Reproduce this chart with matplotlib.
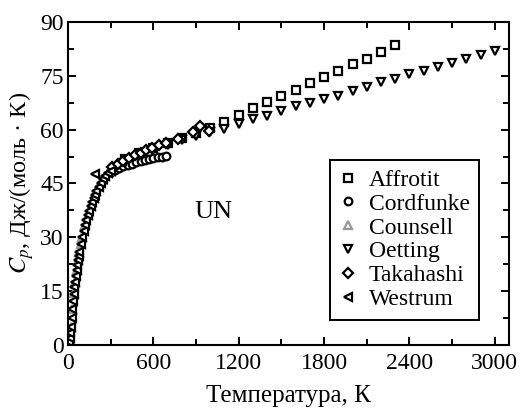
import matplotlib
matplotlib.use('Agg')
import matplotlib.pyplot as plt
from matplotlib.ticker import MultipleLocator

plt.rcParams['font.family'] = ['Liberation Serif', 'DejaVu Serif']
plt.rcParams['mathtext.fontset'] = 'stix'

# data (T in K, Cp in J/(mol K))
affrotit_t = [400, 500, 600, 700, 800, 900, 1000, 1100, 1200, 1300, 1400, 1500,
              1600, 1700, 1800, 1900, 2000, 2100, 2200, 2300]
affrotit_cp = [51.8, 53.5, 55.0, 56.3, 57.6, 59.0, 60.5, 62.2, 64.1, 65.9, 67.6, 69.3,
               71.0, 72.9, 74.6, 76.4, 78.3, 79.8, 81.6, 83.5]

cordfunke_t = [300, 330, 360, 390, 420, 450, 480, 510, 540, 570, 600, 630, 660, 690]
cordfunke_cp = [48.2, 48.8, 49.3, 49.8, 50.2, 50.5, 50.9, 51.3, 51.5, 51.9, 52.1, 52.3,
                52.5, 52.7]

counsell_t = [20, 30, 40, 50, 60, 70, 80, 90, 100, 120, 140, 160, 180, 200,
              220, 240, 260, 280, 300]
counsell_cp = [5.0, 10.0, 14.5, 17.5, 20.8, 23.6, 26.0, 28.2, 30.0, 33.3, 36.1, 38.6,
               40.8, 42.8, 44.5, 46.0, 47.0, 47.8, 48.4]

oetting_t = [400, 500, 600, 700, 800, 900, 1000, 1100, 1200, 1300, 1400, 1500, 1600,
             1700, 1800, 1900, 2000, 2100, 2200, 2300, 2400, 2500, 2600, 2700, 2800,
             2900, 3000]
oetting_cp = [50.8, 52.6, 54.2, 55.6, 57.0, 58.2, 59.2, 60.1, 61.6, 62.9, 63.8, 65.3, 66.6,
              67.3, 68.4, 69.5, 70.8, 72.0, 73.2, 74.1, 75.4, 76.4, 77.5, 78.6, 79.8,
              80.9, 82.0]

takahashi_t = [310, 350, 390, 430, 470, 510, 550, 590, 640, 690, 770, 880, 930, 990]
takahashi_cp = [49.5, 50.5, 51.2, 52.0, 52.8, 53.5, 54.2, 55.0, 55.7, 56.4, 57.5, 59.2,
                61.0, 59.6]

westrum_t = [8, 12, 16, 20, 25, 30, 35, 40, 45, 50, 55, 60, 65, 70, 75, 80, 90, 100,
             110, 120, 130, 140, 150, 160, 170, 180, 190, 200, 215, 230, 245, 260,
             280, 300, 190]
westrum_cp = [0.8, 1.8, 3.2, 5.0, 7.5, 10.0, 12.2, 14.3, 16.0, 17.5, 19.2, 20.8, 22.3,
              23.6, 24.8, 26.0, 28.2, 30.0, 31.7, 33.3, 34.8, 36.1, 37.4, 38.6, 39.7,
              40.8, 41.8, 42.8, 44.0, 45.2, 46.3, 47.0, 47.8, 48.4, 47.6]

fig = plt.figure(figsize=(5.21, 4.11), dpi=100)
ax = fig.add_axes([0.1305, 0.161, 0.8465, 0.7855])

mk = dict(linestyle='none', markerfacecolor='white', markersize=5.5, markeredgewidth=1.6)
ax.plot(affrotit_t, affrotit_cp, marker='s', color='black', label='Affrotit', **mk)
ax.plot(cordfunke_t, cordfunke_cp, marker='o', color='black', label='Cordfunke', **mk)
ax.plot(counsell_t, counsell_cp, marker='^', color='#999999', label='Counsell', **mk)
ax.plot(oetting_t, oetting_cp, marker='v', color='black', label='Oetting', **mk)
ax.plot(takahashi_t, takahashi_cp, marker='D', color='black', label='Takahashi',
        linestyle='none', markerfacecolor='white', markersize=5, markeredgewidth=1.6)
ax.plot(westrum_t, westrum_cp, marker='<', color='black', label='Westrum', **mk)

ax.set_xlim(0, 3100)
ax.set_ylim(0, 90)
ax.xaxis.set_major_locator(MultipleLocator(600))
ax.xaxis.set_minor_locator(MultipleLocator(300))
ax.yaxis.set_major_locator(MultipleLocator(15))
ax.yaxis.set_minor_locator(MultipleLocator(7.5))
ax.tick_params(which='both', direction='in', top=True, right=True, width=1.4,
               labelsize=17)
ax.tick_params(axis='x', pad=6)
ax.tick_params(axis='y', pad=3)
ax.tick_params(which='major', length=6)
ax.tick_params(which='minor', length=4)
for s in ax.spines.values():
    s.set_linewidth(1.5)

ax.text(1020, 37, 'UN', fontsize=19, ha='center', va='center')

ax.set_xlabel('Температура, К', fontsize=18, labelpad=8)
ax.set_ylabel(r'$C_p$, Дж/(моль · К)', fontsize=17.5, labelpad=3)

leg = ax.legend(loc='upper left', bbox_to_anchor=(0.594, 0.573), fontsize=17,
                frameon=True, fancybox=False, edgecolor='black', framealpha=1,
                handlelength=0.7, handletextpad=0.55, labelspacing=0.1,
                borderpad=0.4, borderaxespad=0)
leg.get_frame().set_linewidth(1.4)

fig.savefig('out.png', dpi=100)
